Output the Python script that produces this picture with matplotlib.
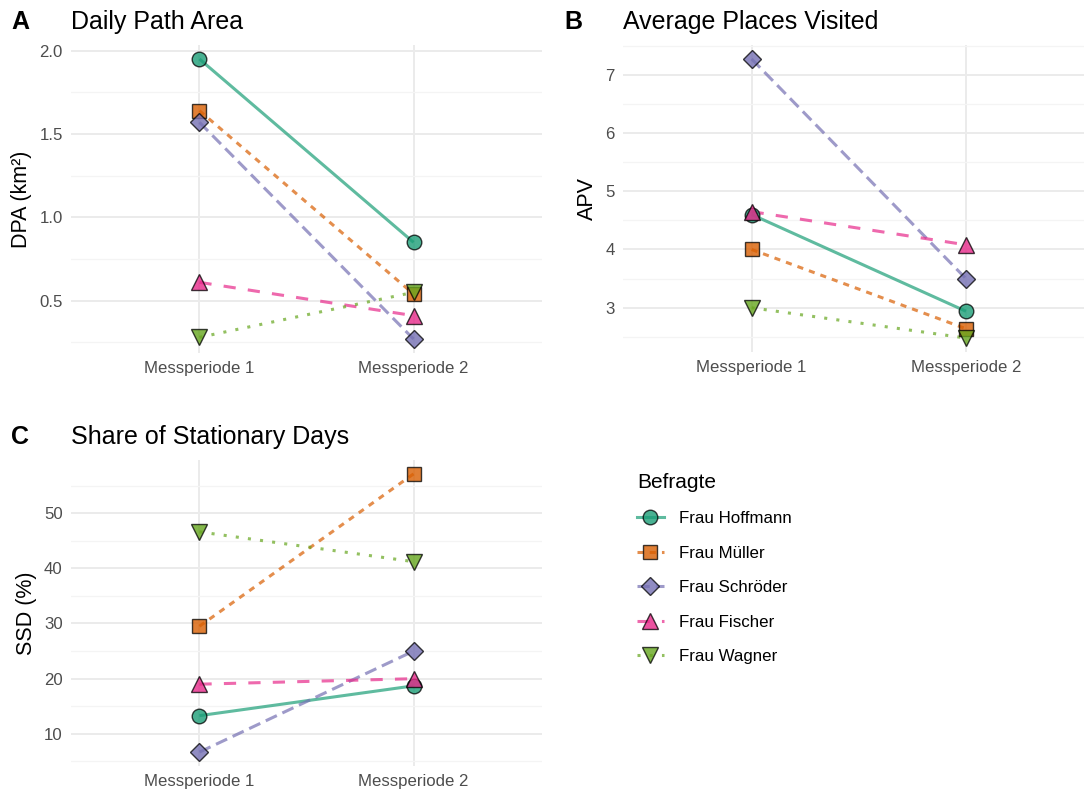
import matplotlib
matplotlib.use("Agg")
import matplotlib.pyplot as plt
from matplotlib.lines import Line2D
import numpy as np

plt.rcParams['font.family'] = ['Liberation Sans', 'DejaVu Sans']

# ---------------- data ----------------
periods = ["Messperiode 1", "Messperiode 2"]
persons = ["Frau Hoffmann", "Frau Müller", "Frau Schröder", "Frau Fischer", "Frau Wagner"]

dpa_p1 = [1.95, 1.64, 1.57, 0.61, 0.28]
dpa_p2 = [0.85, 0.54, 0.27, 0.41, 0.55]

apv_p1 = [4.60, 4.00, 7.27, 4.65, 3.00]
apv_p2 = [2.94, 2.64, 3.50, 4.08, 2.48]

ssd_p1 = [13.3, 29.5, 6.7, 19.0, 46.6]
ssd_p2 = [18.7, 57.1, 25.0, 20.0, 41.2]

panel_titles = ["Daily Path Area", "Average Places Visited", "Share of Stationary Days"]
panel_tags = ["A", "B", "C"]
y_labels = ["DPA (km²)", "APV", "SSD (%)"]
major_ticks = [[0.5, 1.0, 1.5, 2.0], [3, 4, 5, 6, 7], [10, 20, 30, 40, 50]]
minor_ticks = [[0.25, 0.75, 1.25, 1.75], [2.5, 3.5, 4.5, 5.5, 6.5, 7.5], [5, 15, 25, 35, 45, 55]]
tick_fmt = ["{:.1f}", "{:.0f}", "{:.0f}"]

# ---------------- style ----------------
colors = ["#1B9E77", "#D95F02", "#7570B3", "#E7298A", "#66A61E"]
markers = ["o", "s", "D", "^", "v"]
msizes = [10.5, 9.5, 9.0, 11.0, 11.0]
dashes = [None, (2, 2), (4, 2), (4, 4), (1, 3)]
LW = 2.2

W, H = 1084, 793
fig = plt.figure(figsize=(W / 100, H / 100), dpi=100)

def px_axes(l, t, r, b):
    return fig.add_axes([l / W, 1 - b / H, (r - l) / W, (b - t) / H])

boxes = [(71, 45, 542, 353), (623, 45, 1094.5, 352), (71, 460, 542, 766)]
datasets = [(dpa_p1, dpa_p2), (apv_p1, apv_p2), (ssd_p1, ssd_p2)]
ylabel_x = [32, 598, 37]  # px from left (right side of rotated label)
tag_x = [11, 564, 11]

grid_major = "#EBEBEB"
grid_minor = "#F4F4F4"

for k in range(3):
    l, t, r, b = boxes[k]
    ax = px_axes(l, t, r, b)
    p1, p2 = datasets[k]
    xs = np.arange(1, len(periods) + 1)
    for i in range(len(persons)):
        ys = [p1[i], p2[i]]
        ln, = ax.plot(xs, ys, color=colors[i], lw=LW, alpha=0.7, zorder=2,
                      solid_capstyle='butt', dash_capstyle='butt')
        if dashes[i] is not None:
            ln.set_dashes(dashes[i])
    for i in range(len(persons)):
        ys = [p1[i], p2[i]]
        ax.plot(xs, ys, ls='none', marker=markers[i], ms=msizes[i],
                mfc=matplotlib.colors.to_rgba(colors[i], 0.8),
                mec=(0, 0, 0, 0.75), mew=1.0, zorder=3)
    allv = list(p1) + list(p2)
    lo, hi = min(allv), max(allv)
    pad = 0.05 * (hi - lo)
    ax.set_ylim(lo - pad, hi + pad)
    ax.set_xlim(0.4, len(periods) + 0.6)
    ax.set_xticks(xs)
    ax.set_xticklabels(periods)
    ax.set_yticks(major_ticks[k])
    ax.set_yticklabels([tick_fmt[k].format(v) for v in major_ticks[k]])
    ax.set_yticks(minor_ticks[k], minor=True)
    ax.grid(True, which='major', color=grid_major, lw=1.4, zorder=0)
    ax.grid(True, which='minor', axis='y', color=grid_minor, lw=0.9, zorder=0)
    ax.set_axisbelow(True)
    for s in ax.spines.values():
        s.set_visible(False)
    ax.tick_params(which='both', length=0)
    ax.tick_params(axis='x', labelsize=12.1, colors="#4D4D4D", pad=5.5)
    ax.tick_params(axis='y', labelsize=12.1, colors="#4D4D4D", pad=6)
    ax.set_ylabel(y_labels[k], fontsize=15.5, color="black")
    ax.yaxis.set_label_coords((ylabel_x[k] - l) / (r - l), 0.5)
    # titles
    title_base = t - 15.7
    fig.text(l / W, 1 - title_base / H, panel_titles[k], fontsize=18,
             va='baseline', ha='left')
    fig.text(tag_x[k] / W, 1 - title_base / H, panel_tags[k],
             fontsize=18, fontweight='bold', va='baseline', ha='left')

# legend
handles = []
for i in range(len(persons)):
    h = Line2D([], [], color=matplotlib.colors.to_rgba(colors[i], 0.7), lw=LW,
               marker=markers[i], ms=msizes[i],
               mfc=matplotlib.colors.to_rgba(colors[i], 0.8),
               mec=(0, 0, 0, 0.75), mew=1.0)
    if dashes[i] is not None:
        h.set_dashes(dashes[i])
    handles.append(h)
leg = fig.legend(handles, persons, loc='upper left',
                 bbox_to_anchor=(630 / W, 1 - 466 / H), frameon=False,
                 title="Befragte", title_fontsize=15, fontsize=12.2,
                 handlelength=1.6, handletextpad=0.9, labelspacing=1.15,
                 alignment='left', borderaxespad=0)

fig.savefig("out.png", dpi=100, facecolor="white")
